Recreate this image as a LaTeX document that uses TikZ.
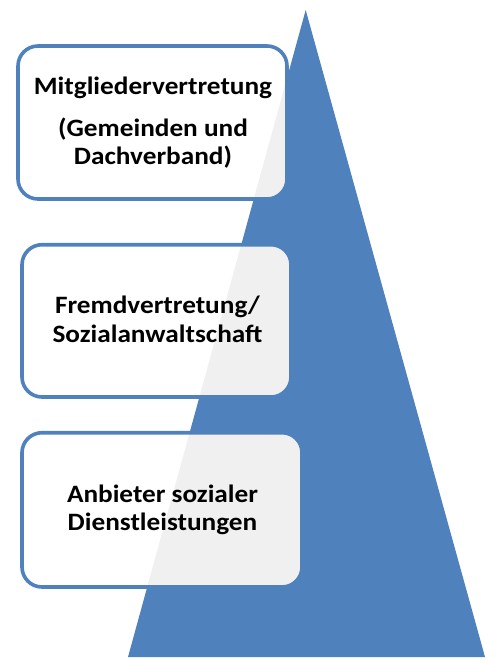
\documentclass[tikz,border=0pt]{standalone}
\usepackage{fontspec}
\setmainfont{Carlito}
\definecolor{triblue}{HTML}{4F81BD}
\definecolor{boxgray}{HTML}{F0F0F0}
\newcommand{\wideText}[1]{\scalebox{1.09}[1]{#1}}
\begin{document}
\begin{tikzpicture}[x=1pt,y=-1pt,
  boxnode/.style={draw=triblue, line width=3.6pt, fill=white, rounded corners=20pt,
    inner sep=0pt, outer sep=0pt,
    path picture={\fill[boxgray] (apex) -- (bright) -- (bleft) -- cycle;}},
  lbl/.style={anchor=base, inner sep=0pt, font=\fontsize{25}{30}\selectfont\bfseries, text=black}]
\useasboundingbox (0,0) rectangle (502,660);
\coordinate (apex) at (305.7,10);
\coordinate (bright) at (485,657);
\coordinate (bleft) at (128,657);
\fill[triblue] (apex) -- (bright) -- (bleft) -- cycle;
\node[boxnode, minimum width=269pt, minimum height=153pt] (b1) at (152.5,122.5) {};
\node[boxnode, minimum width=269pt, minimum height=152.3pt] (b2) at (156.5,320.85) {};
\node[boxnode, minimum width=280pt, minimum height=154.3pt] (b3) at (162,509.85) {};
\node[lbl] (t1a) at (153,95) {\wideText{Mitgliedervertretung}};
\node[lbl] (t1b) at (153,137) {\wideText{(Gemeinden und}};
\node[lbl] (t1c) at (153,165) {\wideText{Dachverband)}};
\node[lbl] (t2a) at (157.5,313) {\wideText{Fremdvertretung/}};
\node[lbl] (t2b) at (157.5,342) {\wideText{Sozialanwaltschaft}};
\node[lbl] (t3a) at (162.5,502) {\wideText{Anbieter sozialer}};
\node[lbl] (t3b) at (162.5,530) {\wideText{Dienstleistungen}};
\end{tikzpicture}
\end{document}
